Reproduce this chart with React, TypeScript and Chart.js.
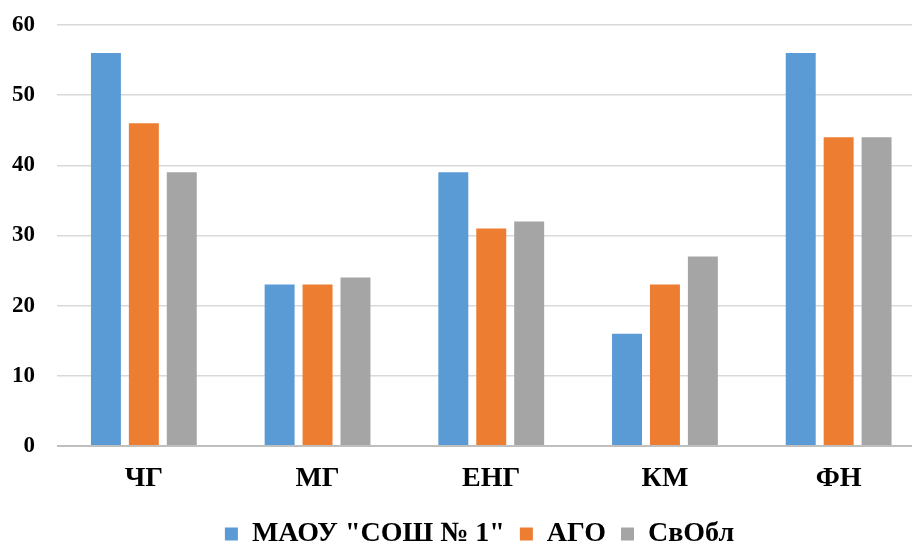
import React, { useEffect, useRef } from "react";
import { Chart, registerables } from "chart.js";

Chart.register(...registerables);

const categories = ["ЧГ", "МГ", "ЕНГ", "КМ", "ФН"];
const seriesNames = ['МАОУ "СОШ № 1"', "АГО", "СвОбл"];
const school = [56, 23, 39, 16, 56];
const ago = [46, 23, 31, 23, 44];
const svobl = [39, 24, 32, 27, 44];
const colors = ["#5B9BD5", "#ED7D31", "#A5A5A5"];
const yMin = 0;
const yMax = 60;
const yStep = 10;

const FONT = '"Liberation Serif", "Times New Roman", serif';

// centre the legend across the full canvas width
const legendSpan = {
  id: "legendSpan",
  afterLayout(chart: any) {
    const lg = chart.legend;
    if (lg) {
      lg.left = 0;
      lg.right = chart.width;
      lg.width = chart.width;
    }
  },
};

export default function App() {
  const ref = useRef<HTMLCanvasElement | null>(null);

  useEffect(() => {
    if (!ref.current) return;
    const values = [school, ago, svobl];
    const chart = new Chart(ref.current, {
      type: "bar",
      data: {
        labels: categories,
        datasets: values.map((v, i) => ({
          label: seriesNames[i],
          data: v,
          backgroundColor: colors[i],
          borderWidth: 0,
          categoryPercentage: 0.655,
          barPercentage: 0.79,
        })),
      },
      plugins: [legendSpan],
      options: {
        animation: false,
        responsive: false,
        maintainAspectRatio: false,
        devicePixelRatio: 1,
        layout: { padding: { top: 25, right: 33.5, left: 0, bottom: 0 } },
        plugins: {
          tooltip: { enabled: false },
          title: { display: false },
          legend: {
            display: true,
            position: "bottom",
            align: "center",
            labels: {
              boxWidth: 13,
              boxHeight: 13,
              padding: 15,
              color: "#000",
              font: { family: FONT, size: 28, weight: "bold" },
            },
          },
        },
        scales: {
          x: {
            grid: { display: false, drawTicks: false },
            border: { display: false },
            ticks: {
              color: "#000",
              padding: 16,
              font: { family: FONT, size: 28, weight: "bold" },
            },
            afterFit: (scale: any) => {
              scale.height = 59;
              scale.paddingLeft = 0;
              scale.paddingRight = 0;
            },
          },
          y: {
            min: yMin,
            max: yMax,
            grid: {
              drawTicks: false,
              lineWidth: (c: any) => (c.tick && c.tick.value === 0 ? 2 : 1.5),
              color: (c: any) => (c.tick && c.tick.value === 0 ? "#BFBFBF" : "#D9D9D9"),
            },
            border: { display: false },
            ticks: {
              stepSize: yStep,
              color: "#000",
              padding: 22,
              font: { family: FONT, size: 23, weight: "bold" },
            },
            afterFit: (scale: any) => {
              scale.width = 57;
              scale.paddingTop = 0;
              scale.paddingBottom = 0;
            },
          },
        },
      },
    });
    return () => chart.destroy();
  }, []);

  return (
    <div
      style={{
        position: "absolute",
        left: 0,
        top: 0,
        width: 912,
        height: 544,
        overflow: "hidden",
        background: "#fff",
      }}
    >
      <canvas ref={ref} width={959} height={558} style={{ display: "block" }} />
    </div>
  );
}
